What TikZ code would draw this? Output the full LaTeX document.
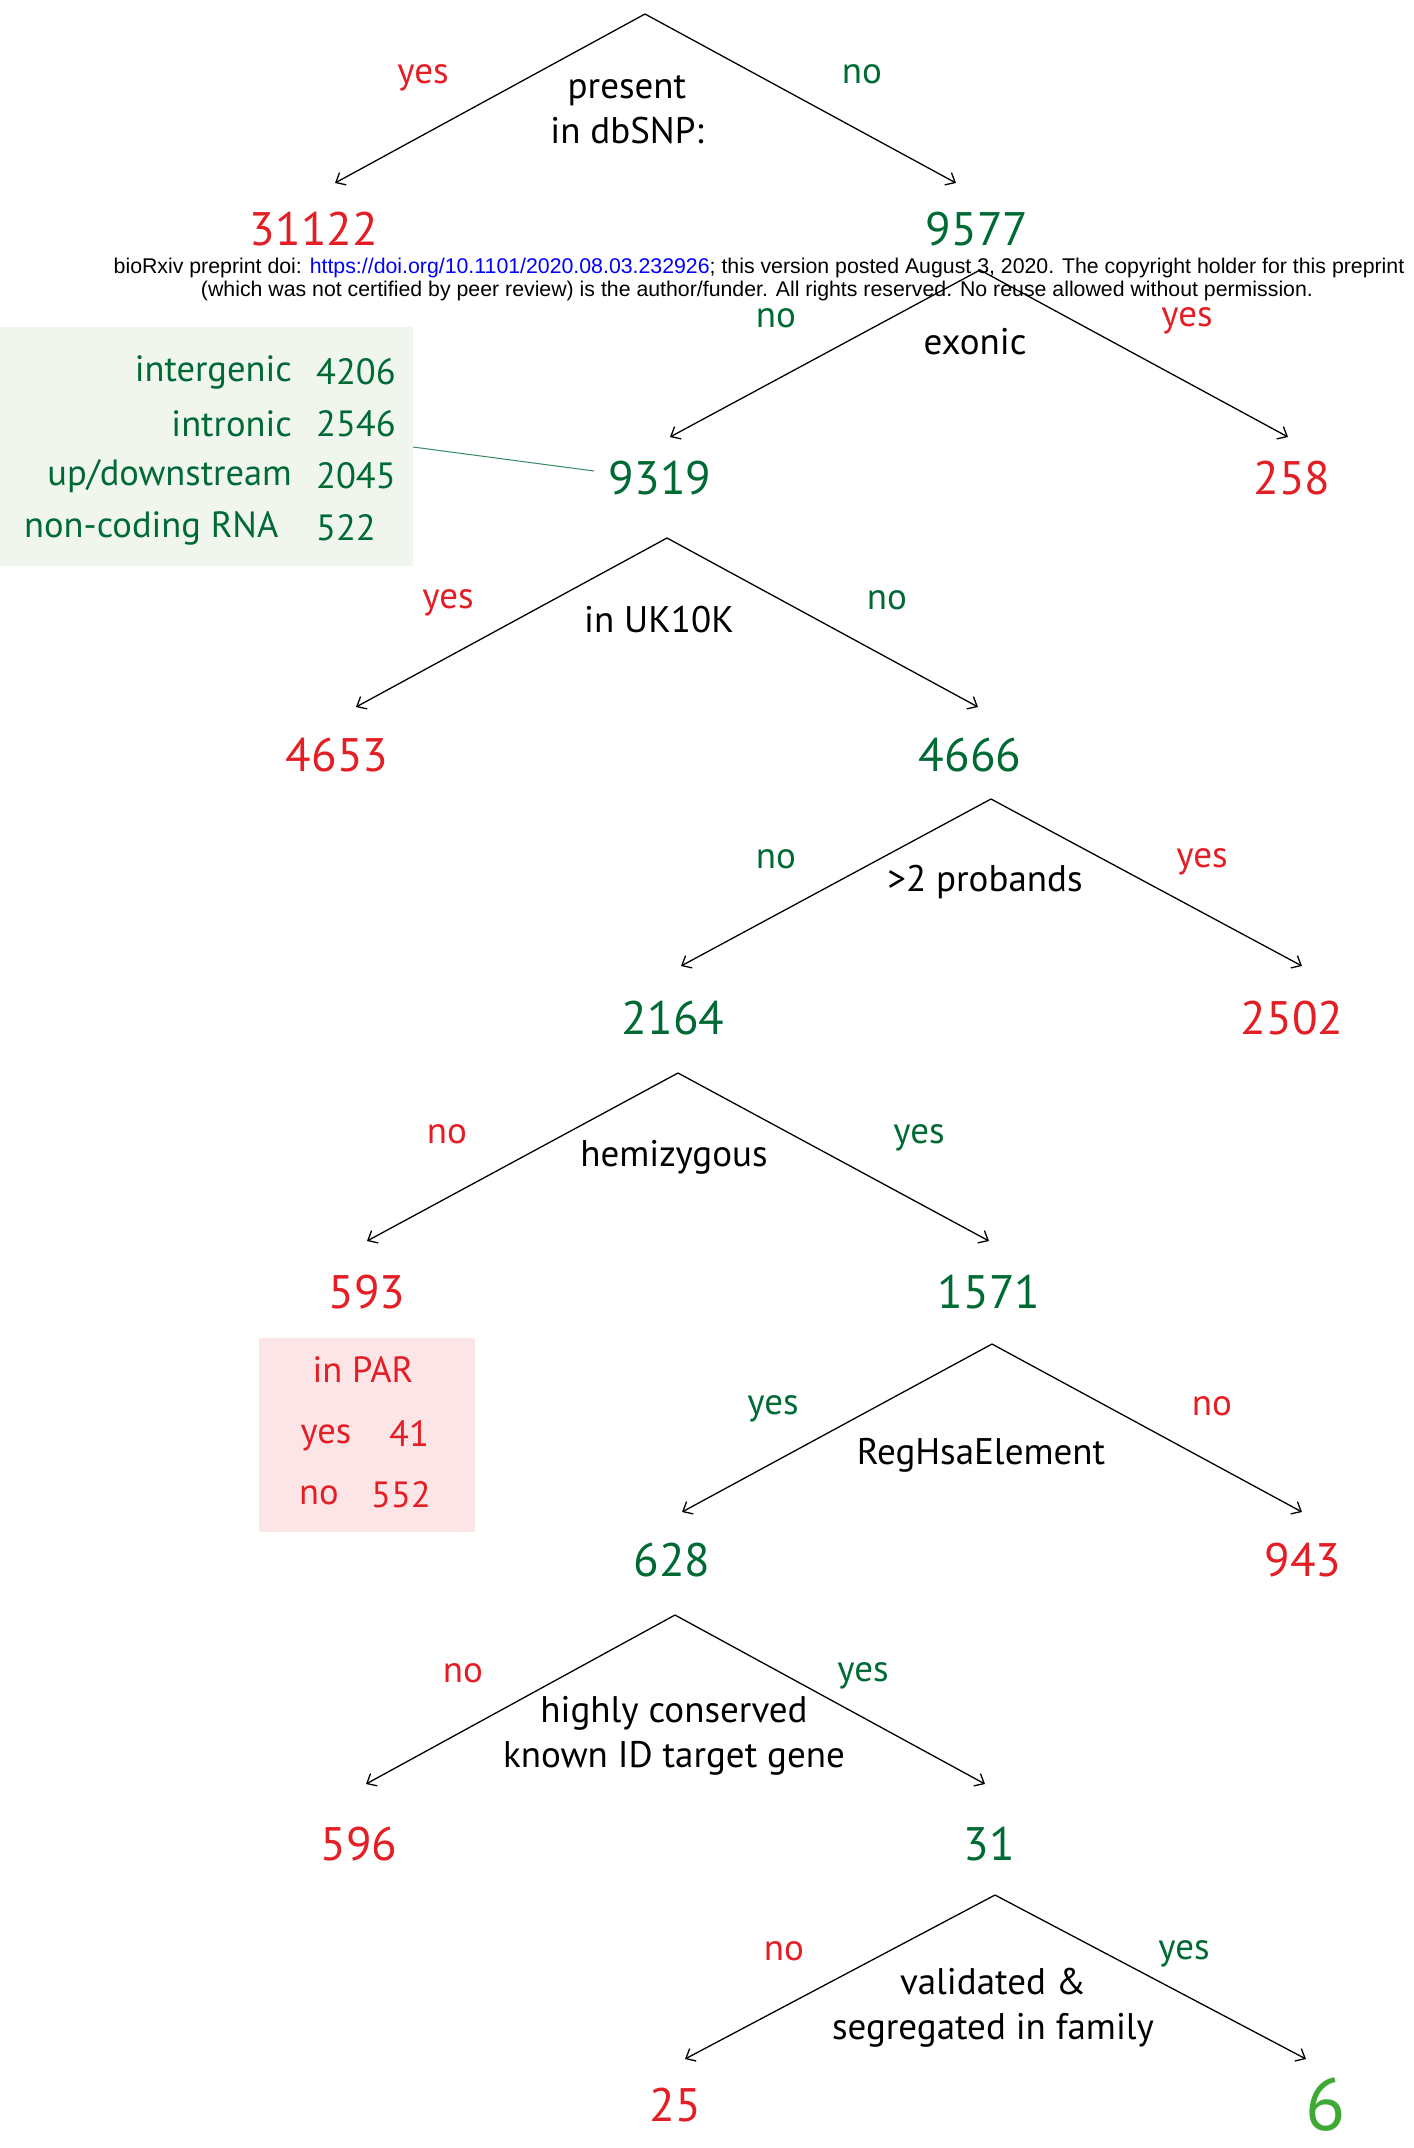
\documentclass[tikz,border=0pt]{standalone}
\usepackage{fontspec}
\usepackage{graphicx}
\setmainfont{PT Sans}
\newfontfamily\arialfont{Liberation Sans}
\usetikzlibrary{arrows.meta}
\definecolor{tred}{RGB}{227,30,36}
\definecolor{tgreen}{RGB}{0,106,52}
\definecolor{bgreen}{RGB}{62,170,53}
\definecolor{gboxfill}{RGB}{240,245,238}
\definecolor{pboxfill}{RGB}{252,229,231}
\definecolor{linkblue}{RGB}{0,0,255}
\begin{document}
\begin{tikzpicture}[x=1pt,y=-1pt,
  cond/.style={font=\fontsize{37}{45}\selectfont, align=center, inner sep=0pt},
  lab/.style={font=\fontsize{37}{40}\selectfont, inner sep=0pt},
  num/.style={font=\fontsize{47}{50}\selectfont, inner sep=0pt},
  boxtxt/.style={font=\fontsize{36.5}{40}\selectfont, inner sep=0pt},
  arr/.style={-{Straight Barb[length=8pt,width=14pt]}, line width=1.3pt},
  hdr/.style={font=\arialfont\fontsize{21.3}{24}\selectfont, inner sep=0pt}
]
\useasboundingbox (0,0) rectangle (1414,2148);

% ---------- Level 1 ----------
\coordinate (a1) at (645,14);
\coordinate (e1l) at (335,183);
\coordinate (e1r) at (956,183);
\draw[arr] (a1) -- (e1l);
\draw[arr] (a1) -- (e1r);
\node[lab,tred] (y1) at (423,78) {yes};
\node[lab,tgreen] (n1) at (862,74) {no};
\node[cond] (c1) at (627,110) {present\\in dbSNP:};
\node[num,tred] (v31122) at (314,229) {31122};
\node[num,tgreen] (v9577) at (977,229) {9577};

% ---------- Level 2 ----------
\coordinate (a2) at (980,270);
\coordinate (e2l) at (670,437);
\coordinate (e2r) at (1288,437);
\draw[arr] (a2) -- (e2l);
\draw[arr] (a2) -- (e2r);
\node[lab,tgreen] (n2) at (776,318) {no};
\node[lab,tred] (y2) at (1187,321) {yes};
\node[cond] (c2) at (975,342) {exonic};
\node[num,tgreen] (v9319) at (660,478) {9319};
\node[num,tred] (v258) at (1292,478) {258};

% header (drawn over the lines)
\node[hdr] (h1) at (759,268) {bioRxiv preprint doi: \textcolor{linkblue}{https://doi.org/10.1101/2020.08.03.232926}; this version posted August 3, 2020. The copyright holder for this preprint};
\node[hdr] (h2) at (757,291) {(which was not certified by peer review) is the author/funder. All rights reserved. No reuse allowed without permission.};

% green box
\node[fill=gboxfill, minimum width=413pt, minimum height=239pt, inner sep=0pt, anchor=north west] (gbox) at (0,327) {};
\node[boxtxt,tgreen,anchor=east] (g1) at (292,372) {intergenic};
\node[boxtxt,tgreen,anchor=west] (g1n) at (316,372) {4206};
\node[boxtxt,tgreen,anchor=east] (g2) at (292,424) {intronic};
\node[boxtxt,tgreen,anchor=west] (g2n) at (316,424) {2546};
\node[boxtxt,tgreen,anchor=east] (g3) at (292,476) {up/downstream};
\node[boxtxt,tgreen,anchor=west] (g3n) at (316,476) {2045};
\node[boxtxt,tgreen,anchor=west] (g4) at (24,528) {non-coding RNA};
\node[boxtxt,tgreen,anchor=west] (g4n) at (316,528) {522};
\coordinate (gl) at (413,447);
\coordinate (gr) at (594,471);
\draw[tgreen!80, line width=1pt] (gl) -- (gr);

% ---------- Level 3 ----------
\coordinate (a3) at (667,538);
\coordinate (e3l) at (356,707);
\coordinate (e3r) at (978,707);
\draw[arr] (a3) -- (e3l);
\draw[arr] (a3) -- (e3r);
\node[lab,tred] (y3) at (448,603) {yes};
\node[lab,tgreen] (n3) at (887,600) {no};
\node[cond] (c3) at (659,620) {in UK10K};
\node[num,tred] (v4653) at (337,755) {4653};
\node[num,tgreen] (v4666) at (970,755) {4666};

% ---------- Level 4 ----------
\coordinate (a4) at (991,799);
\coordinate (e4l) at (681,966);
\coordinate (e4r) at (1302,966);
\draw[arr] (a4) -- (e4l);
\draw[arr] (a4) -- (e4r);
\node[lab,tgreen] (n4) at (776,859) {no};
\node[lab,tred] (y4) at (1202,862) {yes};
\node[cond] (c4) at (985,882) {>2 probands};
\node[num,tgreen] (v2164) at (673,1018) {2164};
\node[num,tred] (v2502) at (1292,1018) {2502};

% ---------- Level 5 ----------
\coordinate (a5) at (678,1073);
\coordinate (e5l) at (367,1241);
\coordinate (e5r) at (989,1241);
\draw[arr] (a5) -- (e5l);
\draw[arr] (a5) -- (e5r);
\node[lab,tred] (n5) at (447,1134) {no};
\node[lab,tgreen] (y5) at (919,1138) {yes};
\node[cond] (c5) at (674,1157) {hemizygous};
\node[num,tred] (v593) at (367,1292) {593};
\node[num,tgreen] (v1571) at (989,1292) {1571};

% pink box
\node[fill=pboxfill, minimum width=216pt, minimum height=194pt, inner sep=0pt, anchor=north west] (pbox) at (259,1338) {};
\node[boxtxt,tred] (p1) at (363,1370) {in PAR};
\node[boxtxt,tred] (p2) at (326,1438) {yes};
\node[boxtxt,tred] (p2n) at (409,1433) {41};
\node[boxtxt,tred] (p3) at (319,1495) {no};
\node[boxtxt,tred] (p3n) at (401,1495) {552};

% ---------- Level 6 ----------
\coordinate (a6) at (992,1344);
\coordinate (e6l) at (682,1512);
\coordinate (e6r) at (1302,1512);
\draw[arr] (a6) -- (e6l);
\draw[arr] (a6) -- (e6r);
\node[lab,tgreen] (y6) at (773,1409) {yes};
\node[lab,tred] (n6) at (1212,1406) {no};
\node[cond] (c6) at (981,1455) {RegHsaElement};
\node[num,tgreen] (v628) at (672,1560) {628};
\node[num,tred] (v943) at (1303,1560) {943};

% ---------- Level 7 ----------
\coordinate (a7) at (675,1615);
\coordinate (e7l) at (366,1784);
\coordinate (e7r) at (985,1784);
\draw[arr] (a7) -- (e7l);
\draw[arr] (a7) -- (e7r);
\node[lab,tred] (n7) at (463,1673) {no};
\node[lab,tgreen] (y7) at (863,1676) {yes};
\node[cond] (c7) at (674,1736) {highly conserved\\known ID target gene};
\node[num,tred] (v596) at (359,1844) {596};
\node[num,tgreen] (v31) at (989,1844) {31};

% ---------- Level 8 ----------
\coordinate (a8) at (995,1895);
\coordinate (e8l) at (685,2059);
\coordinate (e8r) at (1306,2059);
\draw[arr] (a8) -- (e8l);
\draw[arr] (a8) -- (e8r);
\node[lab,tred] (n8) at (784,1951) {no};
\node[lab,tgreen] (y8) at (1184,1954) {yes};
\node[cond] (c8) at (993,2008) {validated \&\\segregated in family};
\node[num,tred] (v25) at (675,2105) {25};
\node[font=\fontsize{74}{74}\selectfont, inner sep=0pt, bgreen] (v6) at (1326,2105) {6};
\end{tikzpicture}
\end{document}
